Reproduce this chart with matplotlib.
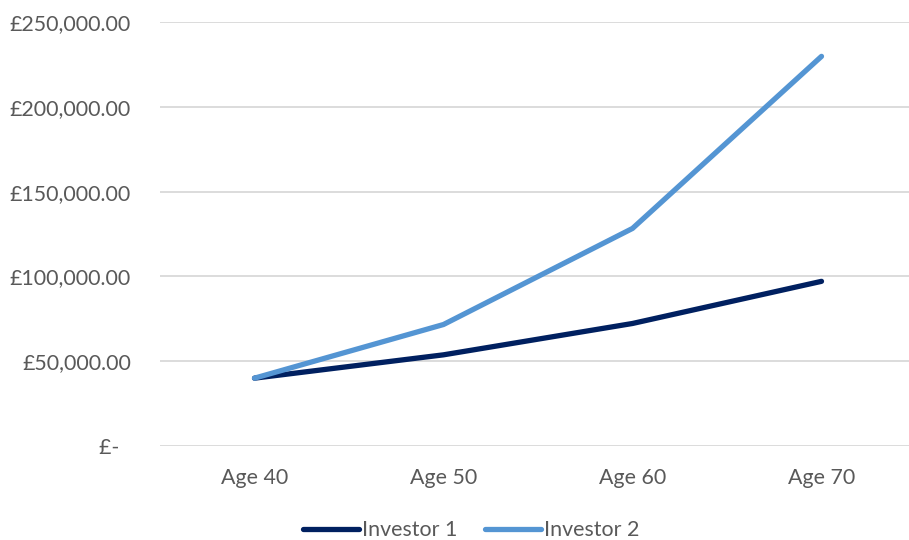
import matplotlib
matplotlib.use("Agg")
import matplotlib.pyplot as plt
from matplotlib.ticker import FuncFormatter

# data
ages = ["Age 40", "Age 50", "Age 60", "Age 70"]
investor_1 = [40000, 53757, 72244, 97090]
investor_2 = [40000, 71634, 128285, 229740]
y_ticks = [0, 50000, 100000, 150000, 200000, 250000]

plt.rcParams['font.family'] = ['Lato', 'DejaVu Sans']
FS = 15.4

fig = plt.figure(figsize=(9.09, 5.40), dpi=100)
# plot area in pixels: left 160, right ~916, bottom 446, top 22
ax = fig.add_axes([160 / 909, (540 - 446) / 540, 756 / 909, (446 - 22) / 540])

x = range(len(ages))
ax.plot(x, investor_1, color='#002060', lw=3.8, solid_capstyle='round',
        solid_joinstyle='round', label='Investor 1', zorder=3)
ax.plot(x, investor_2, color='#5495D3', lw=3.8, solid_capstyle='round',
        solid_joinstyle='round', label='Investor 2', zorder=3)

ax.set_xlim(-0.5, len(ages) - 0.5)
ax.set_ylim(0, 250000)
ax.set_xticks(list(x))
ax.set_xticklabels(ages)
ax.set_yticks(y_ticks)


def money(v, pos):
    if v == 0:
        return "£-  "
    return "£{:,.2f}".format(v)


ax.yaxis.set_major_formatter(FuncFormatter(money))
ax.tick_params(axis='both', length=0, labelsize=FS, colors='#595959')
ax.tick_params(axis='y', pad=21)
ax.tick_params(axis='x', pad=16)
ax.grid(axis='y', color='#D9D9D9', lw=1.3)
ax.set_axisbelow(True)
for s in ax.spines.values():
    s.set_visible(False)

leg = fig.legend(loc='center', bbox_to_anchor=(471 / 909, (540 - 530) / 540), ncol=2,
                 frameon=False, fontsize=FS, handlelength=2.6, handletextpad=0.15,
                 columnspacing=1.3)
for t in leg.get_texts():
    t.set_color('#595959')

fig.savefig("out.png", dpi=100)
